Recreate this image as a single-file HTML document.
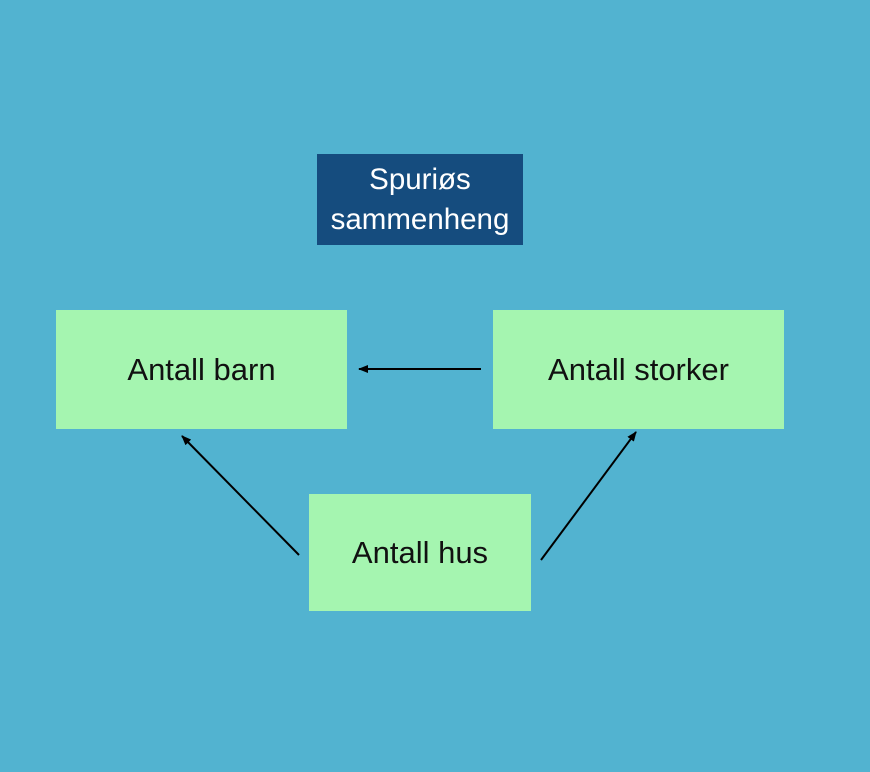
<!DOCTYPE html>
<html><head><style>
html,body{margin:0;padding:0;}
body{width:870px;height:772px;background:#52b3d0;position:relative;overflow:hidden;font-family:"Liberation Sans",sans-serif;}
.b{position:absolute;background:#a5f5b0;color:#111;font-size:31px;display:flex;align-items:center;justify-content:center;}
.t{position:absolute;left:317px;top:154px;width:206px;height:91px;background:#154c7e;color:#fff;font-size:29.5px;line-height:40px;text-align:center;display:flex;align-items:center;justify-content:center;}
svg{position:absolute;left:0;top:0;}
</style></head><body>
<div class="t"><div>Spuriøs<br>sammenheng</div></div>
<div class="b" style="left:56px;top:310px;width:291px;height:119px;">Antall barn</div>
<div class="b" style="left:493px;top:310px;width:291px;height:119px;">Antall storker</div>
<div class="b" style="left:309px;top:494px;width:222px;height:117px;">Antall hus</div>
<svg width="870" height="772">
<defs><marker id="a" markerWidth="10" markerHeight="8" refX="9" refY="4" orient="auto" markerUnits="userSpaceOnUse"><path d="M0,0 L10,4 L0,8 z" fill="#000"/></marker></defs>
<g stroke="#000" stroke-width="2" marker-end="url(#a)">
<line x1="481" y1="369" x2="359" y2="369"/>
<line x1="299" y1="555" x2="182" y2="436"/>
<line x1="541" y1="560" x2="636" y2="432"/>
</g>
</svg>
</body></html>
